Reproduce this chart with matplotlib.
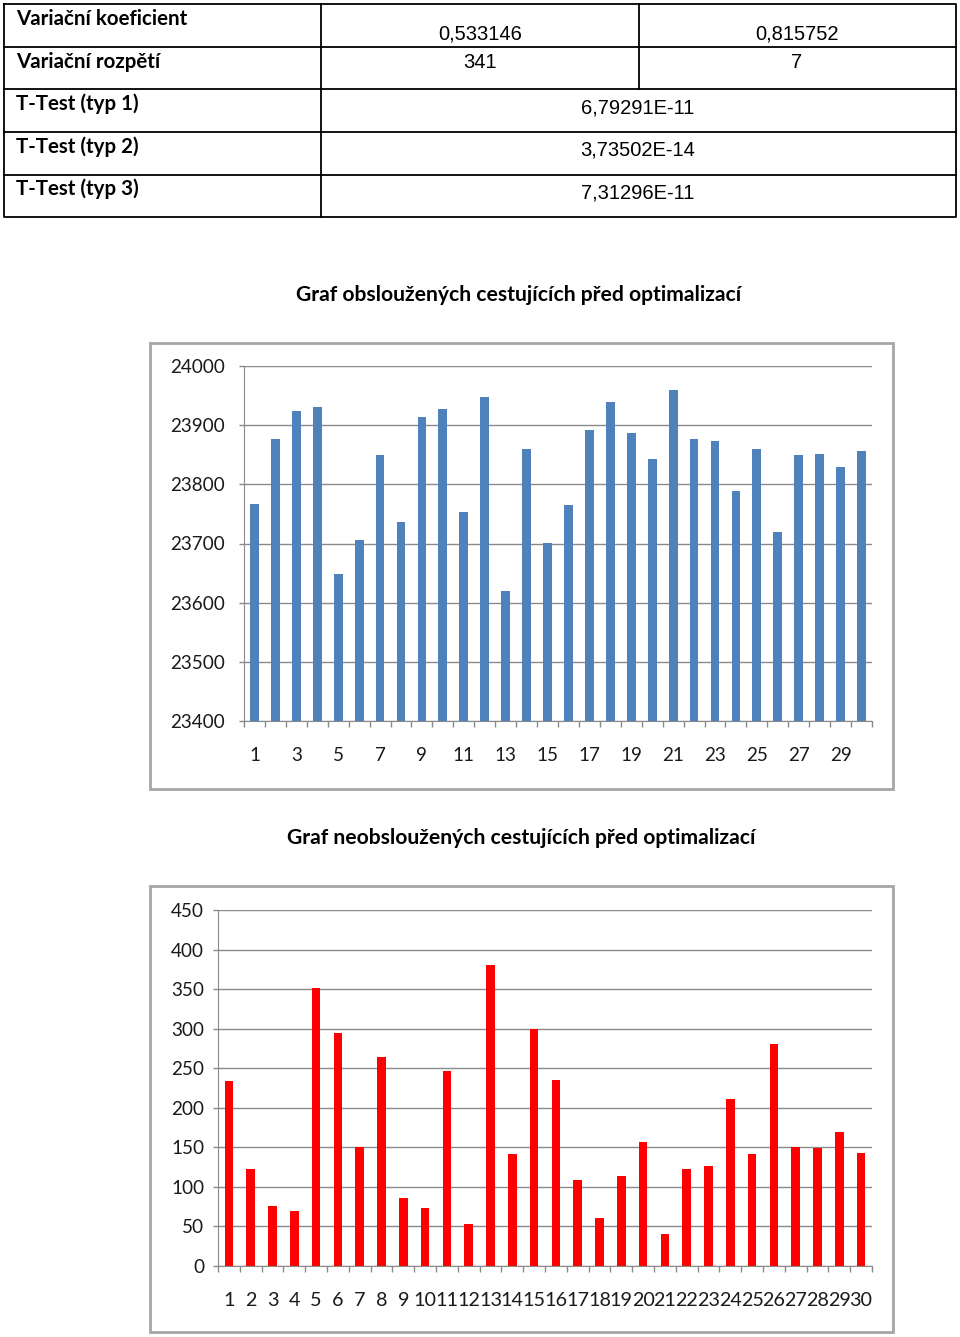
import numpy as np
import matplotlib
matplotlib.use('Agg')
import matplotlib.pyplot as plt
from matplotlib.patches import Rectangle

# table contents
rowLabels = ['Variační koeficient', 'Variační rozpětí', 'T-Test (typ 1)',
             'T-Test (typ 2)', 'T-Test (typ 3)']
varCoef = ['0,533146', '0,815752']
varRange = ['341', '7']
tTests = ['6,79291E-11', '3,73502E-14', '7,31296E-11']

# chart data
days = list(range(1, 31))
served = [23766, 23877, 23924, 23930, 23648, 23706, 23850, 23736, 23914, 23927,
          23753, 23947, 23619, 23859, 23701, 23765, 23891, 23939, 23886, 23843,
          23960, 23877, 23873, 23789, 23859, 23720, 23850, 23851, 23830, 23857]
unserved = [234, 123, 76, 70, 352, 294, 150, 264, 86, 73,
            247, 53, 381, 141, 299, 235, 109, 61, 114, 157,
            40, 123, 127, 211, 141, 280, 150, 149, 170, 143]

title1 = 'Graf obsloužených cestujících před optimalizací'
title2 = 'Graf neobsloužených cestujících před optimalizací'

W, H = 960, 1337
LABEL_FONT = 'Lato'
VALUE_FONT = 'Liberation Sans'
GRID = '#8a8a8a'

fig = plt.figure(figsize=(W / 100, H / 100), dpi=100)

# overlay in pixel coordinates for the table, titles and frames
ov = fig.add_axes([0, 0, 1, 1])
ov.set_xlim(0, W)
ov.set_ylim(H, 0)
ov.axis('off')

# table grid
lw = 1.3
ov.plot([4, 956, 956, 4, 4], [4, 4, 217, 217, 4], color='black', lw=lw)
for y in [47, 89, 132, 175]:
    ov.plot([4, 956], [y, y], color='black', lw=lw)
ov.plot([321, 321], [4, 217], color='black', lw=lw)
ov.plot([639, 639], [4, 89], color='black', lw=lw)

labelY = [19, 62, 104, 147, 189]
for lab, y in zip(rowLabels, labelY):
    ov.text(16, y, lab, ha='left', va='center', fontsize=14.8,
            fontweight='bold', family=LABEL_FONT, color='black')
for v, x in zip(varCoef, [480, 797]):
    ov.text(x, 34, v, ha='center', va='center', fontsize=14.5,
            family=VALUE_FONT, color='black')
for v, x in zip(varRange, [480, 797]):
    ov.text(x, 62, v, ha='center', va='center', fontsize=14.5,
            family=VALUE_FONT, color='black')
for v, y in zip(tTests, [108, 150, 193]):
    ov.text(638, y, v, ha='center', va='center', fontsize=14.5,
            family=VALUE_FONT, color='black')

# titles
ov.text(519, 295, title1, ha='center', va='center', fontsize=15.2,
        fontweight='bold', family=LABEL_FONT, color='black')
ov.text(521, 838, title2, ha='center', va='center', fontsize=15.2,
        fontweight='bold', family=LABEL_FONT, color='black')

# chart frames
for top in [343, 886]:
    ov.add_patch(Rectangle((150, top), 743, 446, fill=False,
                           edgecolor='#a6a6a6', lw=2))


def makeAxes(left, right, top, bottom):
    return fig.add_axes([left / W, 1 - bottom / H, (right - left) / W,
                         (bottom - top) / H])


def styleAxes(ax, ylim, yticks, labelEvery, ypad, xpad, xsize):
    x = np.arange(len(days))
    ax.set_xlim(-0.5, len(days) - 0.5)
    ax.set_ylim(*ylim)
    ax.set_yticks(yticks)
    ax.set_yticklabels([str(t) for t in yticks])
    ax.set_xticks(x[::labelEvery])
    ax.set_xticklabels([str(d) for d in days[::labelEvery]])
    ax.set_xticks(np.arange(-0.5, len(days)), minor=True)
    ax.tick_params(axis='x', which='major', length=0, pad=xpad,
                   labelsize=xsize, labelcolor='#1a1a1a')
    ax.tick_params(axis='x', which='minor', length=4.5, width=1,
                   color=GRID, direction='out')
    ax.tick_params(axis='y', length=3.6, width=1, color=GRID, pad=ypad,
                   labelsize=13.6, labelcolor='#1a1a1a')
    for lab in ax.get_xticklabels() + ax.get_yticklabels():
        lab.set_family(LABEL_FONT)
    for s in ['top', 'right']:
        ax.spines[s].set_visible(False)
    ax.spines['left'].set_color(GRID)
    ax.spines['bottom'].set_color(GRID)
    ax.yaxis.grid(True, color=GRID, lw=1)
    ax.set_axisbelow(True)


# served passengers
ax1 = makeAxes(244, 872, 366, 721)
ax1.bar(np.arange(len(days)), served, width=0.42, color='#4f81bd')
styleAxes(ax1, (23400, 24000), list(range(23400, 24001, 100)), 2, 10, 19, 13.6)

# unserved passengers
ax2 = makeAxes(218, 872, 910, 1266)
ax2.bar(np.arange(len(days)), unserved, width=0.40, color='#ff0000')
styleAxes(ax2, (0, 450), list(range(0, 451, 50)), 1, 6.5, 19, 14.2)

fig.savefig('out.png', dpi=100)
